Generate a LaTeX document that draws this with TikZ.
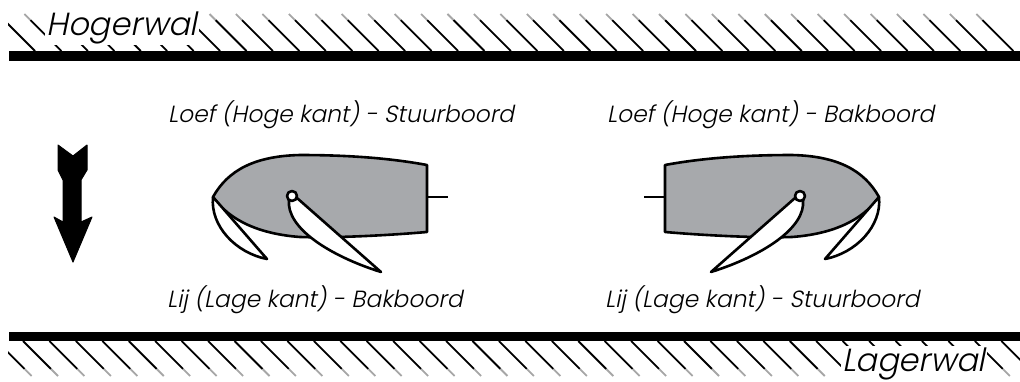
\documentclass[tikz,border=0pt]{standalone}
\usepackage{fontspec}
\newfontfamily\labelfont{Poppins Light}[FakeSlant=0.2]
\definecolor{hullgray}{RGB}{167,169,172}
\begin{document}
\begin{tikzpicture}[x=1pt,y=-1pt,line join=round,
  hull/.style={draw=black,line width=2.6pt,fill=hullgray},
  sail/.style={draw=black,line width=2.6pt,fill=white},
  hatch/.style={line width=1.8pt},
  caption/.style={font=\labelfont\fontsize{23.4}{27}\selectfont,inner sep=0pt,anchor=base west},
  shore/.style={font=\labelfont\fontsize{32}{36}\selectfont,fill=white,inner sep=1.5pt,anchor=base west},
  boat/.pic={
    % hull
    \draw[hull] (213,197) .. controls (228,170) and (255,156) .. (300,155)
      .. controls (360,155) and (400,160) .. (427,165) -- (427,232)
      .. controls (380,236) and (330,238) .. (300,237)
      .. controls (260,234) and (230,221) .. (213,197) -- cycle;
    % rudder stub
    \draw[line width=2.6pt] (427,197) -- (448,197);
    % jib
    \draw[sail] (213,197) .. controls (210,226) and (236,253) .. (267,259) -- cycle;
    % mainsail
    \draw[sail] (289,200) .. controls (286,228) and (330,256) .. (381,272) -- (297,198) -- cycle;
    % mast
    \draw[sail] (292,196) circle (5);
  }]
\useasboundingbox (0,0) rectangle (1020,381);

% hatching of both banks
\begin{scope}
  \clip (8,0) rectangle (1020,381);
  \foreach \k in {0,...,37} {
    \pgfmathsetmacro\xb{35+26.44*\k}
    \draw[hatch] (\xb,51) -- (\xb-31,20);
    \draw[hatch,black!35] (\xb-31,20) -- (\xb-37,14);
  }
  \foreach \k in {-1,...,37} {
    \pgfmathsetmacro\xt{23+26.44*\k}
    \draw[hatch] (\xt,341) -- (\xt+28,369);
    \draw[hatch,black!35] (\xt+28,369) -- (\xt+35,376);
  }
\end{scope}

% bank lines
\fill (9,51) rectangle (1020,60.5);
\fill (9,332) rectangle (1020,341);

\node[shore] (hoger) at (45,35) {Hogerwal};
\node[shore,anchor=base east] (lager) at (987,371) {Lagerwal};

% wind arrow
\draw[fill,line width=1pt] (58,145) -- (73,156) -- (87,145) -- (87,170) -- (81,180)
  -- (81,222) -- (92,217) -- (73,262) -- (54,217) -- (63,222) -- (63,180)
  -- (58,170) -- cycle;

% boats: the second one is the mirror image of the first
\pic at (0,0) {boat};
\pic[xscale=-1] at (1092,0) {boat};

% captions
\node[caption] (loefL) at (168,122) {Loef (Hoge kant) - Stuurboord};
\node[caption] (loefR) at (607,122) {Loef (Hoge kant) - Bakboord};
\node[caption] (lijL) at (167,307) {Lij (Lage kant) - Bakboord};
\node[caption] (lijR) at (605,307) {Lij (Lage kant) - Stuurboord};
\end{tikzpicture}
\end{document}
